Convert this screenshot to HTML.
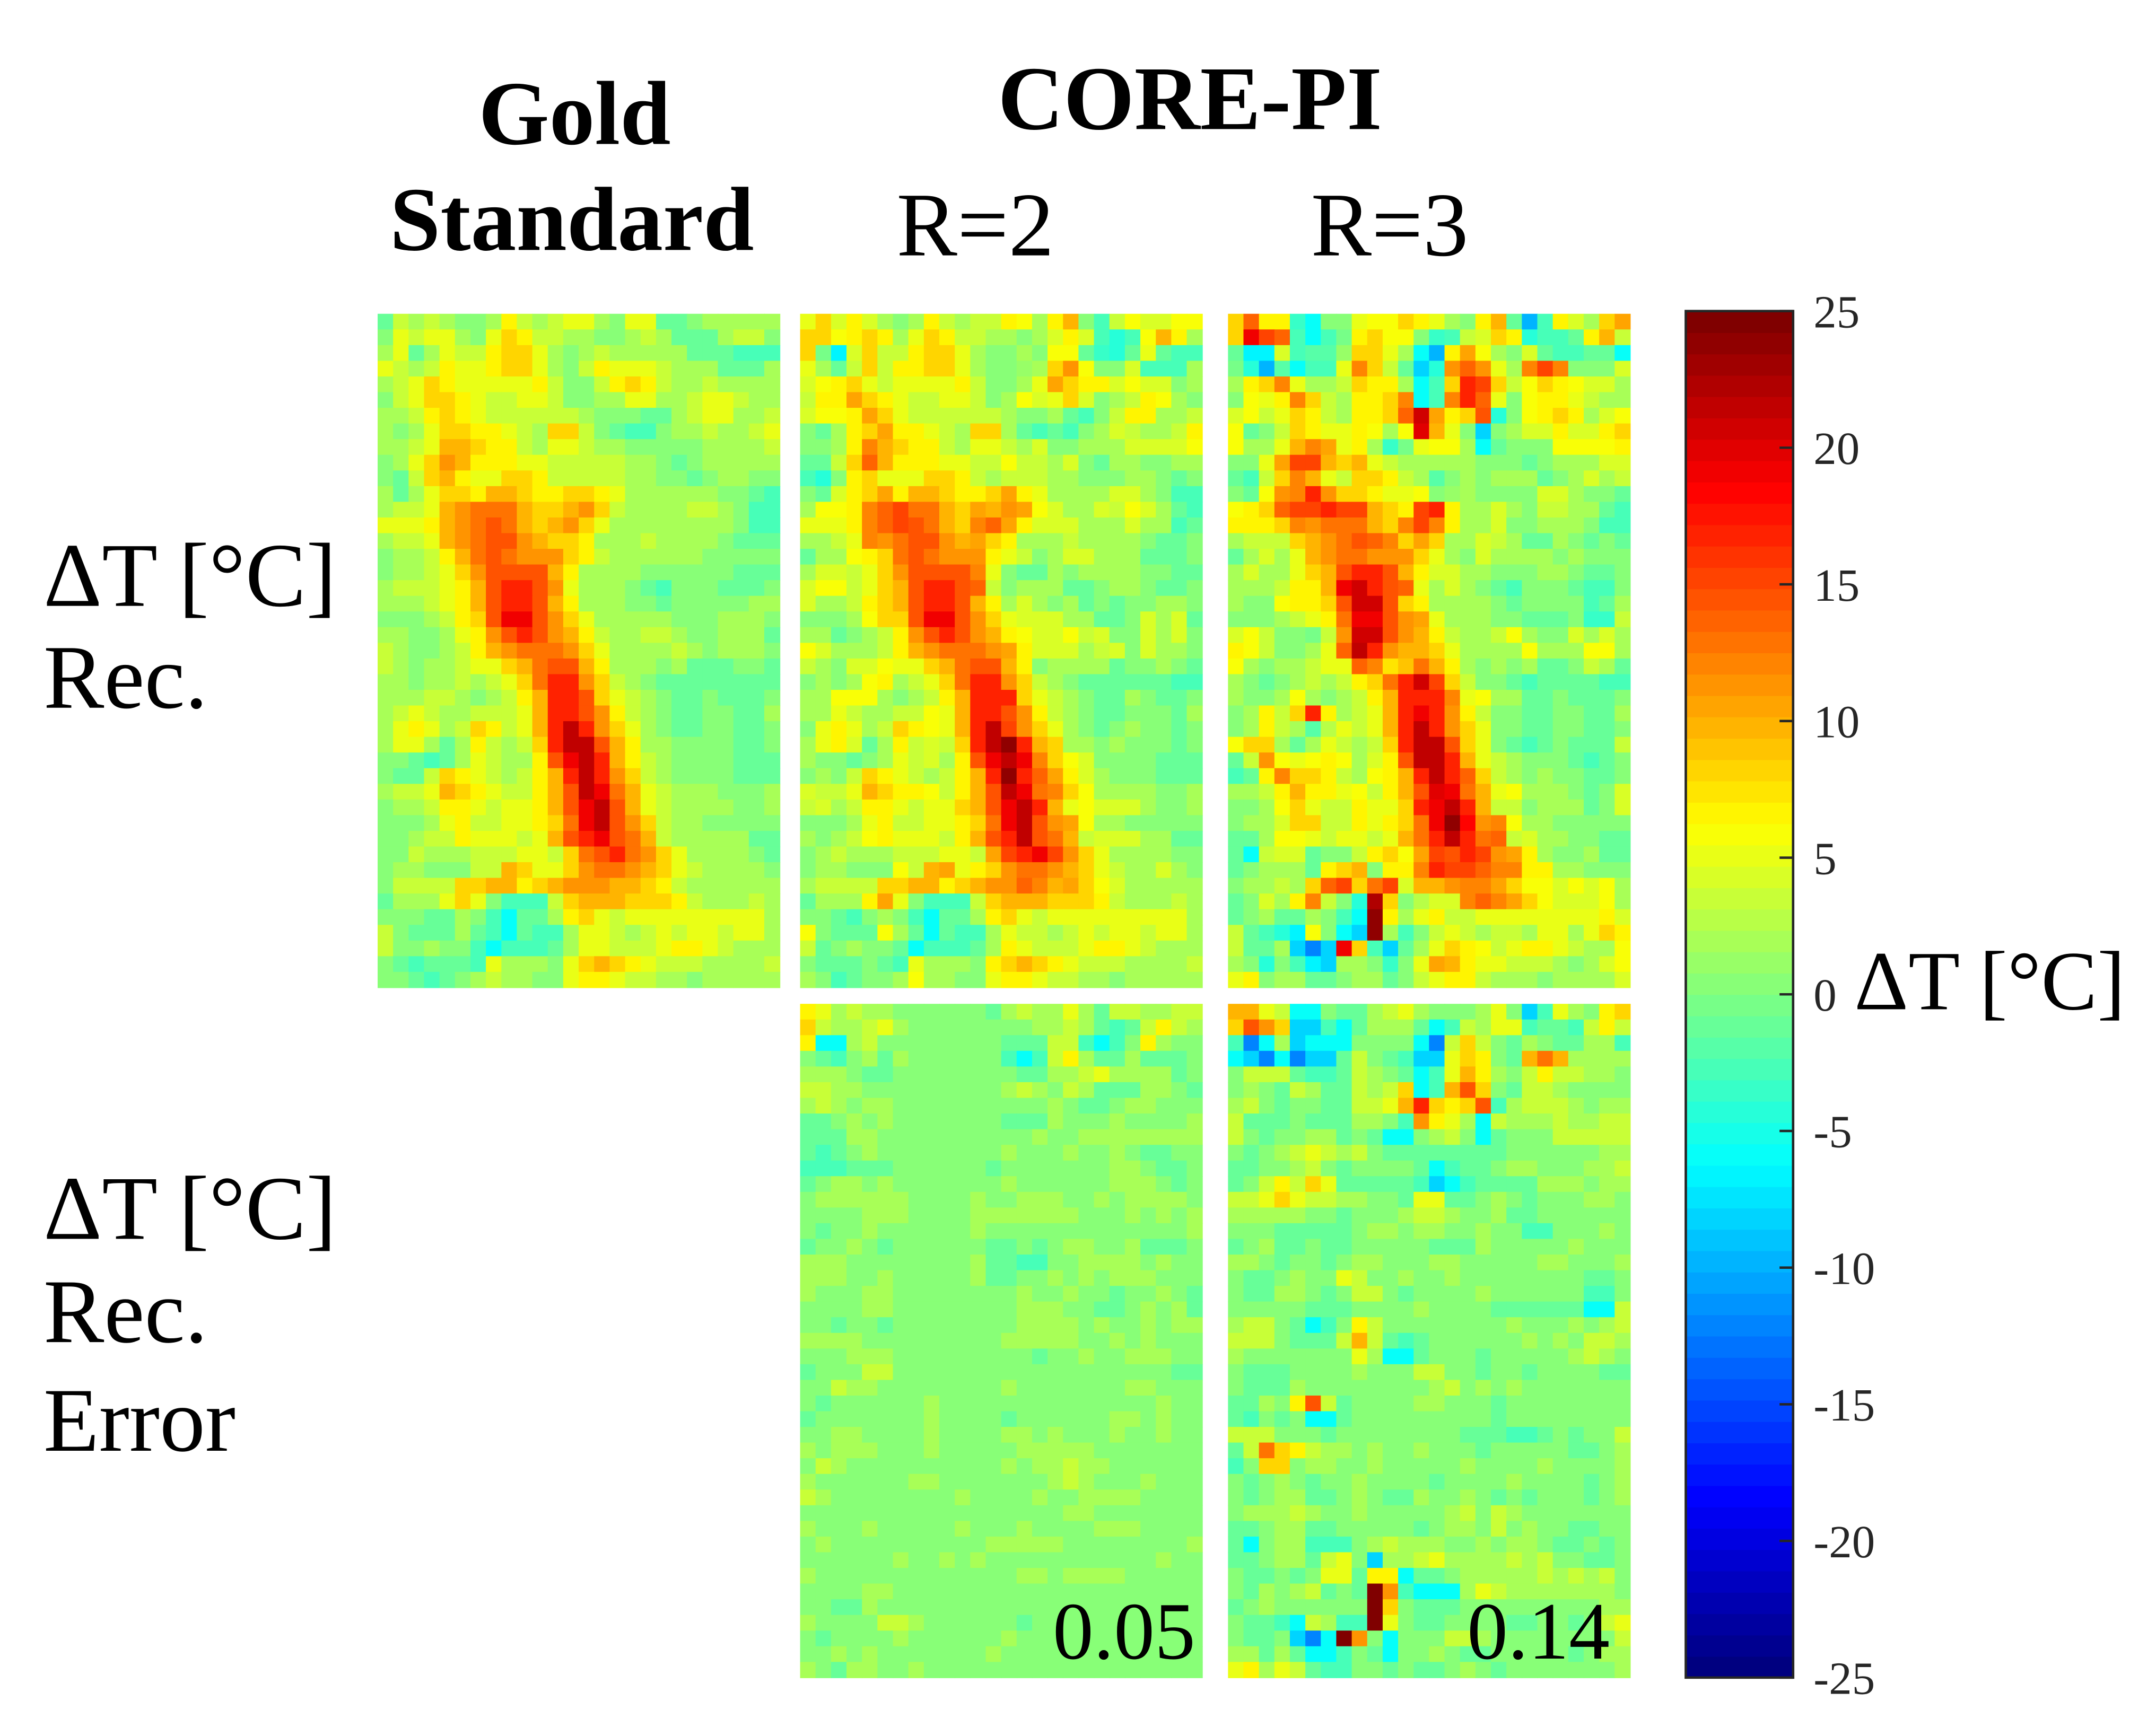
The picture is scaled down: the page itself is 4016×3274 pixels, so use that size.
<!DOCTYPE html>
<html><head><meta charset="utf-8"><style>
html,body{margin:0;padding:0;background:#fff;}
svg{display:block;}
text{font-family:"Liberation Serif",serif;fill:#000;}
</style></head><body>
<svg id="fig" width="4016" height="3274" viewBox="0 0 1568 1278" preserveAspectRatio="none" xmlns="http://www.w3.org/2000/svg">
<rect x="0" y="0" width="1568" height="1278" fill="#fff"/>
<text x="423" y="106" font-size="67" font-weight="bold" text-anchor="middle">Gold</text>
<text x="421" y="184" font-size="67" font-weight="bold" text-anchor="middle">Standard</text>
<text x="876" y="95" font-size="67" font-weight="bold" text-anchor="middle">CORE-PI</text>
<text x="718" y="188" font-size="67" text-anchor="middle">R=2</text>
<text x="1023" y="188" font-size="67" text-anchor="middle">R=3</text>
<text x="32" y="446" font-size="67">ΔT [°C]</text>
<text x="32" y="521" font-size="67">Rec.</text>
<text x="32" y="912" font-size="67">ΔT [°C]</text>
<text x="32" y="988" font-size="67">Rec.</text>
<text x="32" y="1068" font-size="67">Error</text>
<g id="panels"></g>
<g id="cbar"></g>
<text x="1365" y="743" font-size="62">ΔT [°C]</text>
</svg>
<script>
// level codes -> ΔT values
const codes = "abcdefghijklmnopqrs";
const codeValues = [-12,-8,-5.5,-3,-1.5,0,2,3.5,5,6.5,8.5,10,11.5,13,14.5,17,19.5,21.5,25];
const cbTicks = [25,20,15,10,5,0,-5,-10,-15,-20,-25];
const errLabels = ["0.05","0.14"];
const gold = [
"ehghgffgjhghiigfiieefggggg","fihiigfikjhhggffghgeeeghhf","giegihhjkkigfghgggggeeeddd","ihghjiijkkigfhjiiihgggeeeg",
"ghikjiiiiijhffhjkjhgghgggg","fhikkjihhiihffggiigghiihgg","gghjkjihhhhhhgfffeeghiiggh","gfgikkjjihgkkhfeddfgghgghi",
"gghillkjjhgiihggfffffggggh","fgikmljjjiihhhhhggfefggggg","fehkljiikkjhhhhhggffefggff","gegikkjllkjjkkjiggggggffed",
"ghhilmnnnlkklmkhgggghhgfdd","iiijlmnonlklmkiggggggggfdd","ghhilmnoomlkkjggghggggfee".padEnd(26,"e"),"fgghjlnonmmmkjhggggggffff".padEnd(26,"f"),
"fgghikmooooljggggffffffeeef".slice(0,26),"ghhhijloppomigggfedfffeeef","ggghijloppoljgggffefffffg".padEnd(26,"g"),"fffghjkoqqomkigggggfffgggf",
"ggffgijmopomljhgghhgffggge","hgffghjlmnnnmkigggghgfgggf","hgfgghiikl noolj gggfgeeeffe".replace(/ /g,"").slice(0,26),"ggfgghghiknppmkhgfeeeeeeee",
"ggghhgfghjlppokihgfeefeeef","ghihgghhhilppomjhgfeeffeeg","gijighkjhilprpmkigfeeffeef","giigegjhghkprroljggffffeef",
"ffedegihggjoqrpljhgffffeee","feehkjihghjlprpmkhgffffee".padEnd(26,"e"),"ghhilkjihhjlorqnlihgggfffg","fgghjjihiijloqrolihggggffg",
"fffgijhhiijknqromkhggffff".padEnd(26,"f"),"ffghhjiiihilopqonlhggggge".padEnd(26,"e"),"ffhggghhhiihknopnmkiggggfe","fggfffhhlkiikmnnmlkihggggf",
"fhhhhkklljklmmmllkjhggggg".padEnd(26,"g"),"egggikifdddhklllkkkjhggghg","fffeegfdceegjkihiiiiiiiiig","hfeeegedcedd giihghihiihiig".replace(/ /g,"").slice(0,26),
"hffgffdcdddegiihhhijjihggg","fedeeedigggfiklkjihhhgggg".padEnd(26,"h"),"ffedefghggffijjihhggfggggg"
];
const err2 = [
"jighggffffffeghggigehhggh".padEnd(26,"h"),"khgghigffffffffgghgedehjhg","jccghffffffffeeehhdcdfjgff","fedfgegffffffdcdhjgeegeeef",
"gggfeeffffffffeegghigggge".padEnd(26,"f"),"hhggfffffffffghgfhgeeeggfe","ghgfggffffffffffgfeefggff".padEnd(26,"f"),"eefgfgfffffffeeegfffgffffg",
"eeeggffffffffffgffggggggg".padEnd(26,"g"),"edefgffffffffgfffgffgfeef".padEnd(26,"f"),"dddeeeffffffefffffffggfeef","efggfgfffffffgffffffgggfef",
"fggggggffffgffgggffgfggggf","ffffgggffffgggggggfffgfgfg","feffgffffffgfffffffffffffg","effgfeffffffeefefggffgeeef",
"gggffffffffgeeddffggggfgff","gggffgfffffgeeffgfgfgggfff","gfffggffffffffgffgffeffgfe","ffffggffffffffgggffeefgfge",
"ffeffeffffffffggggfgffgfgg","ggggfffffffffgggggffgfgfff","fffgggfffffffffeffgffgggff","efffhhffffffffffffffffffee",
"ffhggffffffffgfffffffggfff","feffffffgffffffffffffffgff","efffffffgffffeffffffggfgff","ffggffffgffffggfgfffgffgff",
"gfgggfffgfffffgggggfffffff","fhgffffffffffgfgghggffffff","gffffffggfffffffghgfffgfff","hgffffffffgffffgffggggffff",
"fffffffffffffffffggfffffff","gfffgfffffgfffgffffgggffff","fgffffffffffgggggffffffffg","ffffffgffgfgfffffffffffgff",
"gfffffffffffffggfggggfffff","ffffggffffffffffffffffffff","ffeegfffffffffffffffffffff","gffffhhgffffffeffffffffff".padEnd(26,"f"),
"feffffgffffffgfffffffffff".padEnd(26,"f"),"ffgfgfffffffgffffffffffff".padEnd(26,"f"),"gfeggffgffffffffffffffffff"
];
const err3 = [
"llihccfeeghigfffgifbdigfjk","komkbbdcegggecdhgiideedhjh","dacgbcccffffcahkhfegfeeggd","cbacabbehfedbbikjfelnlgggg",
"fhhheddehgfecdiljgfhjhhggf","fgfehgeehghkcdlokfehhgffff","ghfeffeehhilpkjkodghhhgfgg","heeefeeeggfdmjigchggghgghh",
"hfeffggefeccfghfcefffhhhhh","fefghihghfeeeeeeeeffffffgg","eeffghfeffffecdeefggfffggh","efhjhkieeeeedbcdeeeegggfgg",
"hhikihhggffeiieefgfefffggf","gggggffefffghhgffgeeffffff","fffeeeeefggfggffgffddfffgf","efgeefeefffffeeegfffffgfff",
"ggfeffefggfffggfffffggfffg","feefgffihffgffgffffffffeef","feeggfefhhfeffffgffffffddf","fffffeeeffffgffffeeeeeecch",
"ghhfecdfjhffffffffgfffgfgh","hhhfeeehlhedeffffffgfgfhhg","gfffffffigccefffefffffghgf","feeeffffgfffhhffeffeffffee",
"feeegffffffffghfgfgffffffff".slice(0,26),"eegfjoheffffggfffeffffffffe".slice(0,26),"edfefcceff fffffffeffffffff".replace(/ /g,"").slice(0,26),"hhhfffefff fffffeeeddefeffh".replace(/ /g,""),
"ehnkjhggfgffgfffefffffeefg","dfkkfggffgfffffgffffgffffg","fefgfeffgffffeffffgffffefg","fefggeefgfeegffgfefefffefg",
"fggghgffgfffffghfhgfffffff","eefggeefffffefggfhfgffeeff","ecfggdddfghgggffgfggfeefef","eefggehifbgghigggghghffeef",
"feefefiiejjceefggggghghghf","fegfghefesmdcccgihgggggggf","efgffffffskfeeefffffffffggh".slice(0,26),"feedchgddsifeeffffeeffefhi",
"feefbacsmfcfffhhgffffffffh","ggegeccdfecffgfeefffffefgg","ijgiheddffefeefgfefffffffg"
];
</script>
<script>
const NS="http://www.w3.org/2000/svg";
const VMIN=-25, VMAX=25, NCOL=64;
function jet(v){
  let t=(v-VMIN)/(VMAX-VMIN); t=Math.max(0,Math.min(1,t));
  t=Math.min(NCOL-1,Math.floor(t*NCOL))/(NCOL-1);
  const c=x=>Math.round(255*Math.max(0,Math.min(1,x)));
  return "rgb("+c(1.5-Math.abs(4*t-3))+","+c(1.5-Math.abs(4*t-2))+","+c(1.5-Math.abs(4*t-1))+")";
}
function parse(rows){return rows.map(r=>r.padEnd(26,"f").slice(0,26).split("").map(ch=>{const i=codes.indexOf(ch);return i<0?0:codeValues[i];}));}
const G=parse(gold), E2=parse(err2), E3=parse(err3);
const R2=G.map((row,i)=>row.map((v,j)=>v+E2[i][j]));
const R3=G.map((row,i)=>row.map((v,j)=>v+E3[i][j]));
const panels=[
 {name:"heatmap-gold-standard",data:G,x:278,y:231},
 {name:"heatmap-r2-rec",data:R2,x:589,y:231},
 {name:"heatmap-r3-rec",data:R3,x:904,y:231},
 {name:"heatmap-r2-error",data:E2,x:589,y:739},
 {name:"heatmap-r3-error",data:E3,x:904,y:739}
];
const PW=296, PH=496;
const pg=document.getElementById("panels");
panels.forEach(p=>{
  const g=document.createElementNS(NS,"g");
  
  
  const rows=p.data.length, cols=p.data[0].length;
  const cw=PW/cols, ch=PH/rows;
  p.data.forEach((row,i)=>row.forEach((v,j)=>{
    const r=document.createElementNS(NS,"rect");
    
    
    r.setAttribute("x",(p.x+j*cw).toFixed(2));
    r.setAttribute("y",(p.y+i*ch).toFixed(2));
    r.setAttribute("width",(cw+0.4).toFixed(2));
    r.setAttribute("height",(ch+0.4).toFixed(2));
    r.setAttribute("fill",jet(v));
    g.appendChild(r);
  }));
  pg.appendChild(g);
});
[[880,1221,errLabels[0],"error-label-r2"],[1185,1221,errLabels[1],"error-label-r3"]].forEach(a=>{
  const t=document.createElementNS(NS,"text");
  
  
  t.setAttribute("x",a[0]);t.setAttribute("y",a[1]);
  t.setAttribute("font-size","60");t.setAttribute("text-anchor","end");
  t.textContent=a[2];pg.appendChild(t);
});
const cb=document.getElementById("cbar");
const CX=1241, CW=79, CT=229, CB=1235;
const yOf=v=>CB-(v-VMIN)/(VMAX-VMIN)*(CB-CT);
for(let k=0;k<NCOL;k++){
  const v0=VMIN+k*(VMAX-VMIN)/NCOL, v1=VMIN+(k+1)*(VMAX-VMIN)/NCOL;
  const r=document.createElementNS(NS,"rect");
  
  
  r.setAttribute("x",CX);r.setAttribute("y",(yOf(v1)).toFixed(2));
  r.setAttribute("width",CW);r.setAttribute("height",(yOf(v0)-yOf(v1)+0.4).toFixed(2));
  r.setAttribute("fill",jet((v0+v1)/2));
  cb.appendChild(r);
}
const box=document.createElementNS(NS,"rect");


box.setAttribute("x",CX);box.setAttribute("y",CT);box.setAttribute("width",CW);box.setAttribute("height",CB-CT);
box.setAttribute("fill","none");box.setAttribute("stroke","#262626");box.setAttribute("stroke-width","1.8");
cb.appendChild(box);
cbTicks.forEach(v=>{
  const y=yOf(v);
  const l=document.createElementNS(NS,"line");
  
  
  l.setAttribute("x1",CX+CW-10);l.setAttribute("x2",CX+CW);l.setAttribute("y1",y);l.setAttribute("y2",y);
  l.setAttribute("stroke","#262626");l.setAttribute("stroke-width","1.8");
  cb.appendChild(l);
  const t=document.createElementNS(NS,"text");
  
  
  t.setAttribute("x",1335);t.setAttribute("y",(y+12).toFixed(1));
  t.setAttribute("font-size","34");t.style.fill="#262626";
  t.textContent=String(v);cb.appendChild(t);
});
</script>
</body></html>
